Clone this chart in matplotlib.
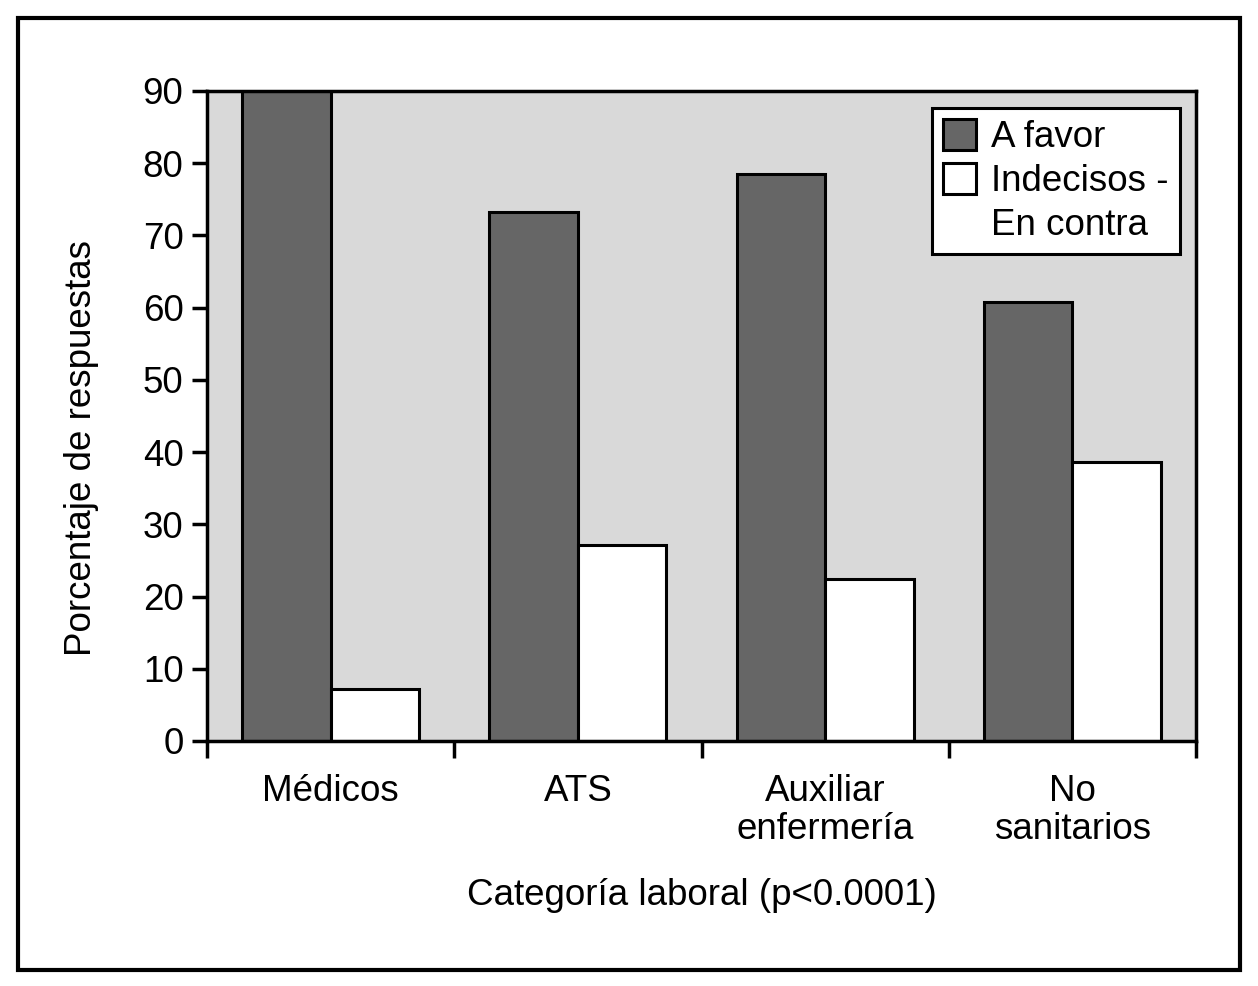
import matplotlib
matplotlib.use("Agg")
import matplotlib.pyplot as plt
import numpy as np
from matplotlib.patches import Rectangle

categories = ["Médicos", "ATS", "Auxiliar\nenfermería", "No\nsanitarios"]
a_favor = [93.0, 73.2, 78.5, 60.8]
indecisos = [7.2, 27.1, 22.4, 38.6]
series_labels = ["A favor", "Indecisos -", "En contra"]
y_ticks = [0, 10, 20, 30, 40, 50, 60, 70, 80, 90]
xlabel = "Categoría laboral (p<0.0001)"
ylabel = "Porcentaje de respuestas"

plt.rcParams['font.family'] = ['Liberation Sans', 'DejaVu Sans']

W, H = 1258, 986
fig = plt.figure(figsize=(W / 100, H / 100), dpi=100)
ax = fig.add_axes([207 / W, 1 - 741 / H, (1196 - 207) / W, (741 - 91) / H])
ax.set_facecolor("#d9d9d9")

x = np.arange(len(categories))
bw = 0.358
lw_bar = 2.2
b1 = ax.bar(x - bw / 2, a_favor, bw, color="#666666", edgecolor="black", linewidth=lw_bar,
            zorder=3)
b2 = ax.bar(x + bw / 2, indecisos, bw, color="white", edgecolor="black", linewidth=lw_bar,
            zorder=3)

ax.set_xlim(-0.5, len(categories) - 0.5)
ax.set_ylim(0, 90)
ax.set_yticks(y_ticks)
ax.tick_params(axis="y", labelsize=26.5, width=2.5, length=11, direction="out", pad=6)
ax.set_xticks(x)
ax.set_xticklabels(categories, fontsize=26.5, linespacing=1.1)
ax.tick_params(axis="x", which="major", length=0, pad=24)
ax.set_xticks(np.arange(len(categories) + 1) - 0.5, minor=True)
ax.tick_params(axis="x", which="minor", length=12, width=2.5, direction="out")

for s in ax.spines.values():
    s.set_linewidth(2.5)
    s.set_zorder(5)

ax.set_xlabel(xlabel, fontsize=26.5, labelpad=22)
fig.text(82 / W, 1 - 448 / H, ylabel, rotation=90, fontsize=26.5, ha="center", va="center")

blank = Rectangle((0, 0), 1, 1, fill=False, edgecolor="none", linewidth=0)
leg = ax.legend([b1[0], b2[0], blank], series_labels,
                loc="upper right", bbox_to_anchor=((1180 - 207) / 989, (741 - 108) / 650),
                fontsize=26.5, frameon=True, fancybox=False, edgecolor="black",
                handlelength=0.9, handleheight=0.9, handletextpad=0.42,
                labelspacing=0.22, borderpad=0.3, borderaxespad=0)
leg.get_frame().set_linewidth(2.2)
leg.get_frame().set_facecolor("white")
leg.get_frame().set_alpha(1)

fig.patches.append(Rectangle((18 / W, 1 - 970 / H), (1240 - 18) / W, (970 - 18) / H,
                             transform=fig.transFigure, fill=False, edgecolor="black",
                             linewidth=3))

fig.savefig("out.png", dpi=100)
